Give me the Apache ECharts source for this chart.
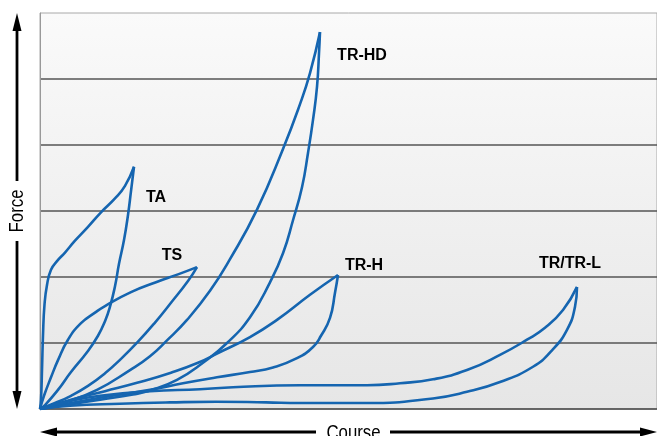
<!DOCTYPE html>
<html>
<head>
<meta charset="utf-8">
<script src="https://cdn.jsdelivr.net/npm/echarts@6/dist/echarts.min.js"></script>
<style>html,body{margin:0;padding:0;background:#fff}#c{width:657px;height:436px}</style>
</head>
<body>
<div id="c"></div>
<script>
// Data (course units, force units)
const taUp = [[0,0],[1,0.14],[2,0.59],[3,1.12],[4.5,1.58],[7,1.88],[11,2.11],[17,2.24],[25,2.37],[35,2.55],[48,2.76],[61,2.98],[75,3.19],[85,3.38],[94,3.67]];
const taDown = [[0,0],[5,0.06],[18,0.29],[31,0.56],[47,0.86],[58,1.11],[65,1.33],[70,1.55],[75,1.86],[79,2.2],[84,2.56],[88,2.94],[91,3.3],[94,3.67]];
const tsUp = [[0,0],[4,0.2],[11,0.48],[18,0.74],[28,1.05],[41,1.3],[55,1.46],[65,1.56],[91,1.77],[116,1.92],[138,2.04],[157,2.15]];
const tsDown = [[0,0],[15,0.09],[31,0.2],[48,0.35],[65,0.54],[81,0.76],[98,1.02],[115,1.31],[131,1.61],[148,1.94],[157,2.15]];
const hdUp = [[0,0],[23,0.09],[57,0.29],[90,0.59],[110,0.8],[127,1.04],[147,1.35],[170,1.79],[190,2.27],[217,3.02],[243,3.94],[260,4.62],[270,5.09],[280,5.71]];
const hdDown = [[0,0],[30,0.07],[60,0.14],[93,0.22],[110,0.28],[137,0.44],[163,0.7],[187,1.0],[210,1.39],[230,1.92],[243,2.36],[253,2.86],[262,3.36],[268,3.88],[273,4.38],[277,4.88],[279,5.39],[280,5.71]];
const hUp = [[0,0],[31,0.14],[65,0.27],[98,0.4],[131,0.55],[158,0.7],[177,0.84],[210,1.09],[237,1.35],[270,1.73],[298,2.03]];
const hDown = [[0,0],[60,0.17],[110,0.29],[143,0.39],[177,0.48],[210,0.56],[233,0.63],[257,0.77],[273,0.94],[281,1.11],[290,1.38],[295,1.76],[298,2.03]];
const trUp = [[0,0],[30,0.12],[60,0.2],[110,0.27],[160,0.3],[193,0.33],[260,0.36],[327,0.36],[360,0.39],[393,0.45],[427,0.59],[460,0.82],[487,1.05],[505,1.23],[523,1.5],[537,1.85]];
const trDown = [[0,0],[30,0.05],[80,0.08],[130,0.1],[176,0.11],[226,0.1],[260,0.09],[327,0.09],[393,0.16],[427,0.26],[460,0.41],[493,0.64],[512,0.89],[527,1.2],[535,1.55],[537,1.85]];
const labelNames = ['TA','TS','TR-HD','TR-H','TR/TR-L'];
const labelPos = [[116,3.2],[132,2.33],[322,5.35],[324,2.17],[530,2.2]];
const axisNameY = 'Force';
const axisNameX = 'Course';

const BLUE = '#1565B0';
const paths = [taUp, taDown, tsUp, tsDown, hdUp, hdDown, hUp, hDown, trUp, trDown];
const series = paths.map(d => ({
  type: 'line', data: d, smooth: 0.5, symbol: 'none', silent: true,
  lineStyle: {color: BLUE, width: 2.6}, z: 3
}));
series.push({
  type: 'scatter', symbolSize: 0, silent: true, z: 4,
  data: labelPos.map((p, i) => ({value: p, name: labelNames[i]})),
  label: {show: true, position: 'inside', formatter: p => p.name,
    fontFamily: 'Liberation Sans, Arial, sans-serif', fontWeight: 'bold', fontSize: 16, color: '#000',
    textBorderWidth: 0, textBorderColor: 'transparent', opacity: 1}
});

const chart = echarts.init(document.getElementById('c'), null, {renderer: 'canvas'});
const font = '"Liberation Sans", Arial, sans-serif';
chart.setOption({
  animation: false,
  grid: {left: 40, right: 0, top: 13, bottom: 27, show: true, borderColor: '#a8a8a8', borderWidth: 1,
    backgroundColor: {type: 'linear', x: 0, y: 0, x2: 0, y2: 1,
      colorStops: [{offset: 0, color: '#fafafa'}, {offset: 1, color: '#e6e6e6'}]}},
  xAxis: {type: 'value', min: 0, max: 617, axisLabel: {show: false}, axisTick: {show: false},
    splitLine: {show: false}, axisLine: {show: true, lineStyle: {color: '#444', width: 1.5}}},
  yAxis: {type: 'value', min: 0, max: 6, interval: 1, axisLabel: {show: false}, axisTick: {show: false},
    axisLine: {show: true, lineStyle: {color: '#999', width: 1}},
    splitLine: {show: true, showMinLine: false, showMaxLine: false, lineStyle: {color: '#555', width: 1.5}}},
  series: series,
  graphic: [
    // vertical Force arrow
    {type: 'line', shape: {x1: 17, y1: 28, x2: 17, y2: 181}, style: {stroke: '#000', lineWidth: 2.8}},
    {type: 'line', shape: {x1: 17, y1: 241, x2: 17, y2: 394}, style: {stroke: '#000', lineWidth: 2.8}},
    {type: 'polygon', shape: {points: [[17, 13], [12.5, 31], [21.5, 31]]}, style: {fill: '#000'}},
    {type: 'polygon', shape: {points: [[17, 409], [12.5, 391], [21.5, 391]]}, style: {fill: '#000'}},
    {type: 'text', x: 17, y: 211, rotation: Math.PI / 2, scaleX: 0.84,
      style: {text: axisNameY, font: '20px ' + font, fill: '#000', align: 'center', verticalAlign: 'middle'}},
    // horizontal Course arrow
    {type: 'line', shape: {x1: 54, y1: 432, x2: 316, y2: 432}, style: {stroke: '#000', lineWidth: 2.8}},
    {type: 'line', shape: {x1: 390, y1: 432, x2: 643, y2: 432}, style: {stroke: '#000', lineWidth: 2.8}},
    {type: 'polygon', shape: {points: [[40, 432], [57, 427.5], [57, 436.5]]}, style: {fill: '#000'}},
    {type: 'polygon', shape: {points: [[657, 432], [640, 427.5], [640, 436.5]]}, style: {fill: '#000'}},
    {type: 'text', x: 353.5, y: 423, scaleX: 0.84,
      style: {text: axisNameX, font: '20px ' + font, fill: '#000', align: 'center', verticalAlign: 'top'}}
  ]
});
</script>
</body>
</html>
